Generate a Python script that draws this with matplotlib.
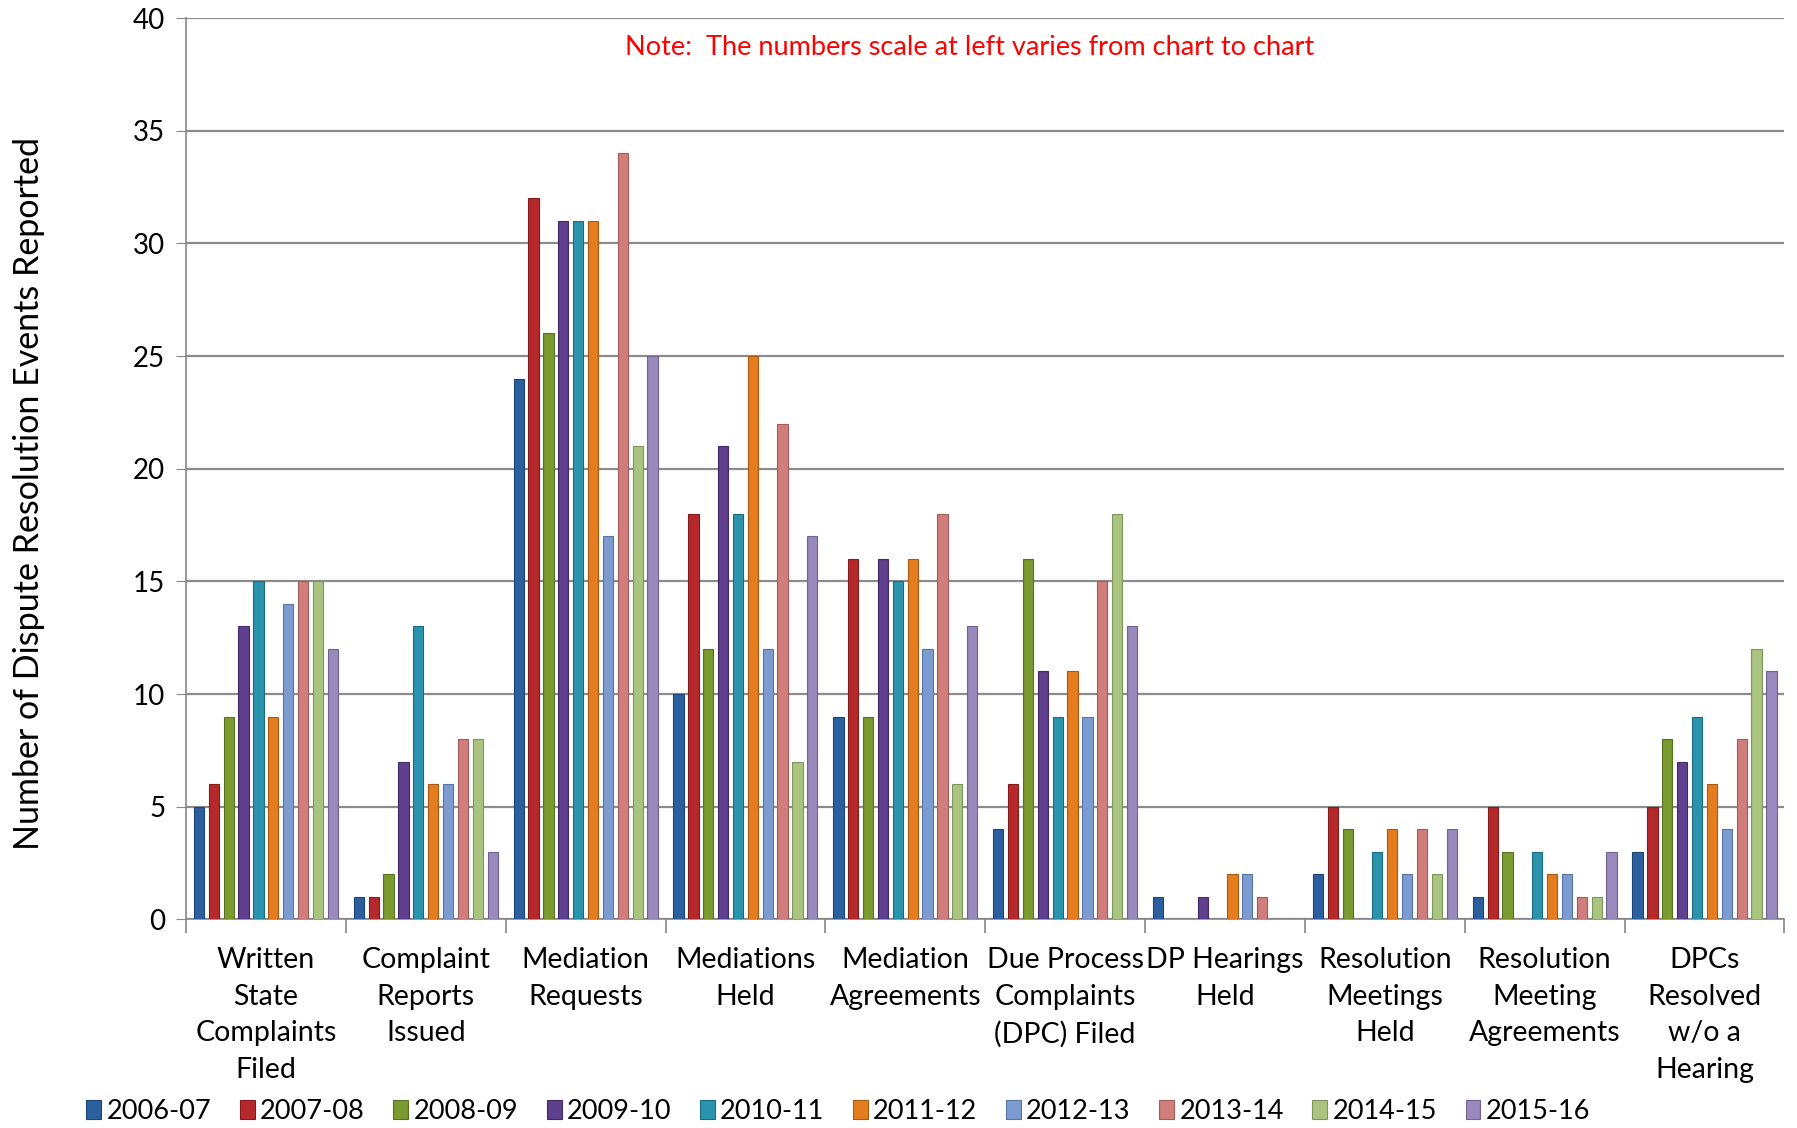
import matplotlib
matplotlib.use("Agg")
import matplotlib.pyplot as plt
import numpy as np

plt.rcParams['font.family'] = ['Lato', 'DejaVu Sans']

categories = ["Written\nState\nComplaints\nFiled", "Complaint\nReports\nIssued", "Mediation\nRequests",
              "Mediations\nHeld", "Mediation\nAgreements", "Due Process\nComplaints\n(DPC) Filed",
              "DP Hearings\nHeld", "Resolution\nMeetings\nHeld", "Resolution\nMeeting\nAgreements",
              "DPCs\nResolved\nw/o a\nHearing"]
series = ["2006-07", "2007-08", "2008-09", "2009-10", "2010-11", "2011-12", "2012-13", "2013-14", "2014-15", "2015-16"]
values = {
    "2006-07": [5, 1, 24, 10, 9, 4, 1, 2, 1, 3],
    "2007-08": [6, 1, 32, 18, 16, 6, 0, 5, 5, 5],
    "2008-09": [9, 2, 26, 12, 9, 16, 0, 4, 3, 8],
    "2009-10": [13, 7, 31, 21, 16, 11, 1, 0, 0, 7],
    "2010-11": [15, 13, 31, 18, 15, 9, 0, 3, 3, 9],
    "2011-12": [9, 6, 31, 25, 16, 11, 2, 4, 2, 6],
    "2012-13": [14, 6, 17, 12, 12, 9, 2, 2, 2, 4],
    "2013-14": [15, 8, 34, 22, 18, 15, 1, 4, 1, 8],
    "2014-15": [15, 8, 21, 7, 6, 18, 0, 2, 1, 12],
    "2015-16": [12, 3, 25, 17, 13, 13, 0, 4, 3, 11],
}
colors = ["#2C5F9E", "#B5292B", "#7A9B2F", "#5F3F8E", "#2A93AE", "#E57D1F",
          "#7C9BD0", "#D07D7B", "#A9C47E", "#9A89BD"]
edge_colors = ["#1E4577", "#861C1E", "#577021", "#432C66", "#1C6B80", "#A85A14",
               "#5874A3", "#A35D5B", "#7E955B", "#71638F"]
yticks = [0, 5, 10, 15, 20, 25, 30, 35, 40]

fig = plt.figure(figsize=(17.97, 11.28), dpi=100)
ax = fig.add_axes([0.1035, 0.185, 0.8895, 0.799])

x = np.arange(len(categories))
step = 0.093
bw = 0.064
for i, s in enumerate(series):
    offs = (i - 4.5) * step
    ax.bar(x + offs, values[s], width=bw, color=colors[i], edgecolor=edge_colors[i],
           linewidth=0.8, label=s, zorder=3)

ax.set_xlim(-0.5, len(categories) - 0.5)
ax.set_ylim(0, 40)
ax.set_yticks(yticks)
ax.tick_params(axis='y', labelsize=20, length=7, color='#888888', pad=8)
ax.yaxis.grid(True, color='#8C8C8C', linewidth=1.6, zorder=0)
ax.set_axisbelow(True)

ax.set_xticks(x)
ax.set_xticklabels(categories, fontsize=20.5, linespacing=1.5, va='top')
ax.tick_params(axis='x', length=0, pad=20)
ax.set_xticks(np.arange(-0.5, len(categories)), minor=True)
ax.tick_params(axis='x', which='minor', length=10, color='#888888', width=1.2)

for sp in ['top', 'right']:
    ax.spines[sp].set_visible(False)
ax.spines['left'].set_color('#888888')
ax.spines['bottom'].set_color('#888888')
ax.spines['left'].set_linewidth(1.2)
ax.spines['bottom'].set_linewidth(1.2)

ax.set_ylabel("Number of Dispute Resolution Events Reported", fontsize=24.5)
ax.yaxis.set_label_coords(-0.088, 0.472)

ax.text(0.49, 0.967, "Note:  The numbers scale at left varies from chart to chart",
        transform=ax.transAxes, color='#FF0000', fontsize=19.5, ha='center', va='center')

leg = fig.legend(loc='lower left', bbox_to_anchor=(0.042, -0.006), ncol=10, frameon=False,
                 fontsize=19.5, handlelength=0.55, handleheight=0.75, handletextpad=0.2,
                 columnspacing=1.05, borderaxespad=0.0)

fig.savefig("out.png", dpi=100)
